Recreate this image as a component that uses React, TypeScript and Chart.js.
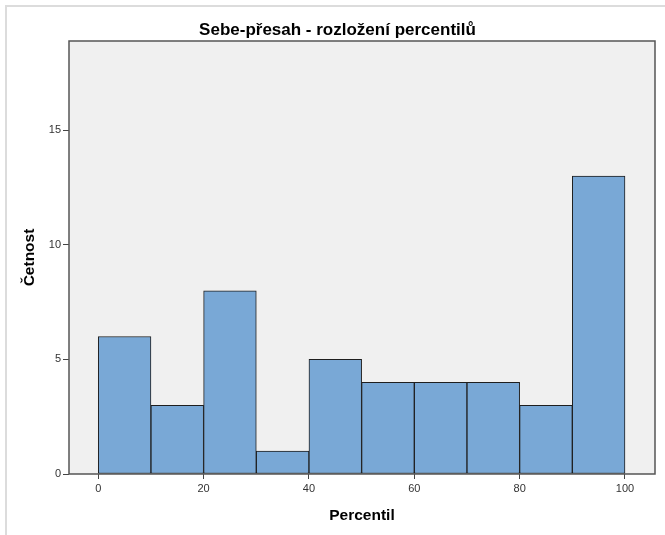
import React, { useEffect, useRef } from "react";
import { Chart, registerables } from "chart.js";

Chart.register(...registerables);

const binEdges = [0, 10, 20, 30, 40, 50, 60, 70, 80, 90, 100];
const counts = [6, 3, 8, 1, 5, 4, 4, 4, 3, 13];
const xTicks = [0, 20, 40, 60, 80, 100];
const yTicks = [0, 5, 10, 15];
const titleText = "Sebe-přesah - rozložení percentilů";
const xTitle = "Percentil";
const yTitle = "Četnost";

const FONT = "'Liberation Sans', Arial, sans-serif";

const framePlugin = {
  id: "framePlugin",
  beforeDraw(chart: any) {
    const { ctx, chartArea } = chart;
    ctx.save();
    ctx.fillStyle = "#ffffff";
    ctx.fillRect(0, 0, chart.width, chart.height);
    ctx.strokeStyle = "#dcdcdc";
    ctx.lineWidth = 2;
    ctx.beginPath();
    ctx.moveTo(6, chart.height);
    ctx.lineTo(6, 6);
    ctx.lineTo(chart.width, 6);
    ctx.stroke();
    ctx.fillStyle = "#f0f0f0";
    ctx.fillRect(chartArea.left, chartArea.top, chartArea.right - chartArea.left, chartArea.bottom - chartArea.top);
    ctx.restore();
  },
  afterDraw(chart: any) {
    const { ctx, chartArea } = chart;
    ctx.save();
    ctx.strokeStyle = "#555555";
    ctx.lineWidth = 1.5;
    ctx.strokeRect(chartArea.left, chartArea.top, chartArea.right - chartArea.left, chartArea.bottom - chartArea.top);
    ctx.restore();
  },
};

export default function App() {
  const ref = useRef<HTMLCanvasElement>(null);
  useEffect(() => {
    if (!ref.current) return;
    const data = counts.map((c, i) => ({ x: (binEdges[i] + binEdges[i + 1]) / 2, y: c }));
    const chart = new Chart(ref.current, {
      type: "bar",
      data: {
        datasets: [
          {
            data: data as any,
            backgroundColor: "#79a8d6",
            borderColor: "#1e1e1e",
            borderWidth: 1,
            borderSkipped: false,
            barPercentage: 1,
            categoryPercentage: 1,
          },
        ],
      },
      options: {
        animation: false,
        responsive: false,
        devicePixelRatio: 1,
        layout: { padding: { left: 20, right: 10, top: 0, bottom: 0 } },
        plugins: {
          legend: { display: false },
          tooltip: { enabled: false },
          title: {
            display: true,
            text: titleText,
            color: "#000000",
            font: { family: FONT, size: 17, weight: "bold" },
            padding: { top: 19.8, bottom: 0.8 },
          },
        },
        scales: {
          x: {
            type: "linear",
            min: -5.56,
            max: 105.7,
            offset: false,
            afterBuildTicks: (s: any) => {
              s.ticks = xTicks.map((v) => ({ value: v }));
            },
            afterFit: (s: any) => {
              s.height = 61;
              s.paddingLeft = 0;
              s.paddingRight = 0;
            },
            grid: { display: true, offset: false, drawOnChartArea: false, drawTicks: true, tickLength: 5, color: "#444444" },
            border: { display: false },
            ticks: { color: "#333333", font: { family: FONT, size: 11 }, padding: 3, maxRotation: 0, autoSkip: false },
            title: {
              display: true,
              text: xTitle,
              color: "#000000",
              font: { family: FONT, size: 15.5, weight: "bold" },
              padding: { top: 0, bottom: 9.7 },
            },
          },
          y: {
            type: "linear",
            min: 0,
            max: 18.9,
            afterBuildTicks: (s: any) => {
              s.ticks = yTicks.map((v) => ({ value: v }));
            },
            afterFit: (s: any) => {
              s.width = 49;
              s.paddingTop = 0;
              s.paddingBottom = 0;
            },
            grid: { display: true, drawOnChartArea: false, drawTicks: true, tickLength: 6, color: "#444444" },
            border: { display: false },
            ticks: { color: "#333333", font: { family: FONT, size: 11 }, padding: 2 },
            title: {
              display: true,
              text: yTitle,
              color: "#000000",
              font: { family: FONT, size: 15.5, weight: "bold" },
              padding: { top: 0, bottom: 0 },
            },
          },
        },
      },
      plugins: [framePlugin],
    });
    return () => chart.destroy();
  }, []);
  return (
    <div style={{ position: "fixed", left: 0, top: 0, width: 665, height: 535 }}>
      <canvas ref={ref} width={665} height={535} style={{ width: 665, height: 535, display: "block" }} />
    </div>
  );
}
